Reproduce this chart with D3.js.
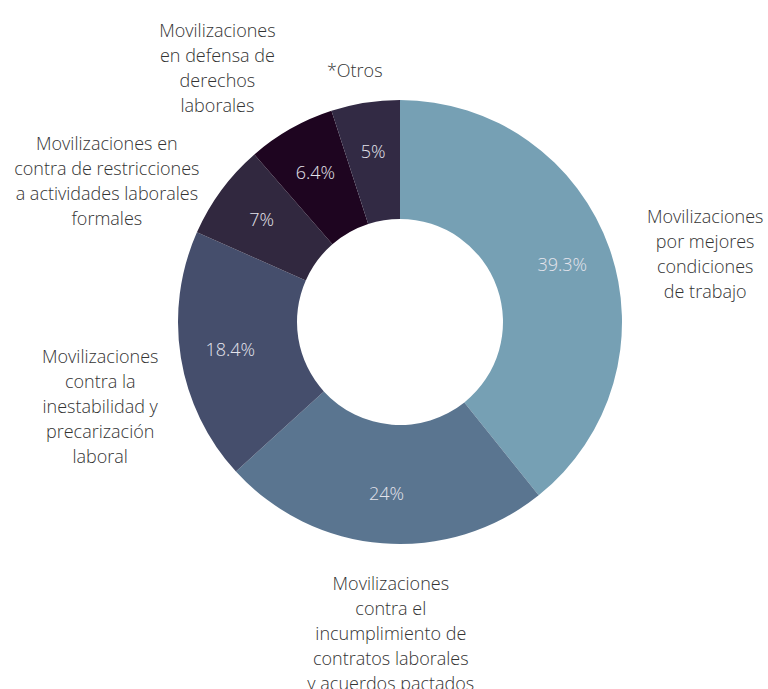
<!DOCTYPE html>
<html>
<head>
<meta charset="utf-8">
<script src="https://cdn.jsdelivr.net/npm/d3@7"></script>
<style>
  body { margin: 0; background: #fff; }
  svg { display: block; font-family: "Open Sans", sans-serif; font-weight: 300; }
</style>
</head>
<body>
<div id="donut"></div>
<script>
// slice data, clockwise from 12 o'clock
const categories = [
  'Movilizaciones por mejores condiciones de trabajo',
  'Movilizaciones contra el incumplimiento de contratos laborales y acuerdos pactados',
  'Movilizaciones contra la inestabilidad y precarización laboral',
  'Movilizaciones en contra de restricciones a actividades laborales formales',
  'Movilizaciones en defensa de derechos laborales',
  '*Otros'
]
const values = [39.3, 24, 18.4, 7, 6.4, 5]
const valueLabels = ['39.3%', '24%', '18.4%', '7%', '6.4%', '5%']
// how the category text wraps
const labelLines = [
  ['Movilizaciones', 'por mejores', 'condiciones', 'de trabajo'],
  ['Movilizaciones', 'contra el', 'incumplimiento de', 'contratos laborales', 'y acuerdos pactados'],
  ['Movilizaciones', 'contra la', 'inestabilidad y', 'precarización', 'laboral'],
  ['Movilizaciones en', 'contra de restricciones', 'a actividades laborales', 'formales'],
  ['Movilizaciones', 'en defensa de', 'derechos', 'laborales'],
  ['*Otros']
]
const colors = ['#76a0b4', '#5a7590', '#454e6c', '#31283f', '#1e0520', '#322a44']

const svgWidth = 768, svgHeight = 689
const cx = 400, cy = 322
const outerR = 222, innerR = 103
const lineH = 25

// nudges for the outside text blocks, from the label-arc point
const labelNudge = [[74, -24], [10, 17], [-58, -5], [-96, -33], [-62, -78], [-7, -9]]

const svg = d3.select('#donut')
  .append('svg')
  .attr('width', svgWidth)
  .attr('height', svgHeight)

const g = svg.append('g')
  .attr('transform', 'translate(' + cx + ',' + cy + ')')

const pie = d3.pie().sort(null).value(d => d)
const arcs = pie(values)

const arc = d3.arc().innerRadius(innerR).outerRadius(outerR)
const pctArc = d3.arc().innerRadius(172).outerRadius(172)
const labelArc = d3.arc().innerRadius(245).outerRadius(245)

g.selectAll('path.slice')
  .data(arcs)
  .enter()
  .append('path')
  .attr('class', 'slice')
  .attr('d', arc)
  .attr('fill', (d, i) => colors[i])

// percentages inside the ring
g.selectAll('text.pct')
  .data(arcs)
  .enter()
  .append('text')
  .attr('class', 'pct')
  .attr('transform', d => 'translate(' + pctArc.centroid(d) + ')')
  .attr('text-anchor', 'middle')
  .attr('dy', '0.35em')
  .attr('fill', '#e4e4ec')
  .attr('font-size', 18)
  .text((d, i) => valueLabels[i])

// category labels outside
arcs.forEach((d, i) => {
  const p = labelArc.centroid(d)
  const t = g.append('text')
    .attr('text-anchor', 'middle')
    .attr('fill', '#333')
    .attr('font-size', 18)
  labelLines[i].forEach((line, j) => {
    t.append('tspan')
      .attr('x', p[0] + labelNudge[i][0])
      .attr('y', p[1] + labelNudge[i][1] + j * lineH)
      .attr('dy', '0.35em')
      .text(line)
  })
})
</script>
</body>
</html>
